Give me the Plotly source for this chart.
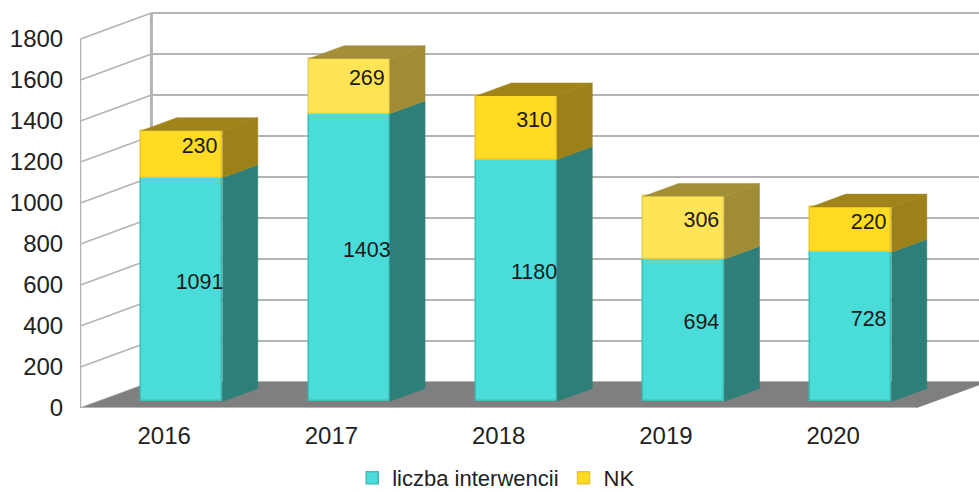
import plotly.graph_objects as go

years = ["2016", "2017", "2018", "2019", "2020"]
interwencje = [1091, 1403, 1180, 694, 728]
nk = [230, 269, 310, 306, 220]
y_ticks = [0, 200, 400, 600, 800, 1000, 1200, 1400, 1600, 1800]

TEAL, TEAL_SIDE, TEAL_LINE = "#4ADCD8", "#2E7F7A", "#3DBDB9"
YEL, YEL_SIDE, YEL_TOP, YEL_LINE = "#FFDB23", "#9C8118", "#A0841A", "#E8C62A"
YEL2, YEL2_SIDE, YEL2_TOP, YEL2_LINE = "#FFE455", "#A18C36", "#A48F39", "#E8CF50"
nk_front = [YEL, YEL2, YEL, YEL2, YEL]
nk_side = [YEL_SIDE, YEL2_SIDE, YEL_SIDE, YEL2_SIDE, YEL_SIDE]
nk_top = [YEL_TOP, YEL2_TOP, YEL_TOP, YEL2_TOP, YEL_TOP]
nk_line = [YEL_LINE, YEL2_LINE, YEL_LINE, YEL2_LINE, YEL_LINE]

# oblique projection: depth 0 = front plane, depth 1 = back wall
DX, DY = 0.424, 127
D0, D1 = 0.25, 0.75
BW = 0.484
GRID = "#B4B4B4"


def proj(x, v, d):
    return x + DX * d, v + DY * d


fig = go.Figure()
shapes = []


def poly(points, color):
    path = "M" + " L".join(f"{x},{y}" for x, y in points) + " Z"
    shapes.append(dict(type="path", path=path, xref="x", yref="y", fillcolor=color,
                       line=dict(width=0), layer="below"))


def seg(a, b, w):
    shapes.append(dict(type="line", xref="x", yref="y", x0=a[0], y0=a[1], x1=b[0], y1=b[1],
                       line=dict(color=GRID, width=w), layer="below"))


X0, X1 = -0.5, len(years) - 0.5
for t in y_ticks:
    seg(proj(X0, t, 0), proj(X0, t, 1), 1.6)
    seg(proj(X0, t, 1), proj(X1, t, 1), 2)
seg(proj(X0, 0, 1), proj(X0, y_ticks[-1], 1), 3)
seg(proj(X0, 0, 0), proj(X0, y_ticks[-1], 0), 1.5)
poly([proj(X0, 0, 0), proj(X0, 0, 1), proj(X1, 0, 1), proj(X1, 0, 0)], "#7F7F7F")
seg(proj(X0, 0, 0), proj(X1, 0, 0), 2)

pos = list(range(len(years)))
base_front = [DY * D0] * len(years)
nk_base = [b + v for b, v in zip(base_front, interwencje)]

fig.add_trace(go.Bar(x=[p + DX * D0 for p in pos], y=interwencje, base=base_front, width=BW,
                     name="liczba interwencii",
                     marker=dict(color=TEAL, line=dict(color=TEAL_LINE, width=1.5))))
fig.add_trace(go.Bar(x=[p + DX * D0 for p in pos], y=nk, base=nk_base, width=BW, name="NK",
                     marker=dict(color=nk_front, line=dict(color=nk_line, width=1.5))))


def face(points, color):
    fig.add_trace(go.Scatter(x=[p[0] for p in points], y=[p[1] for p in points], mode="lines",
                             fill="toself", fillcolor=color, line=dict(color=color, width=0.5),
                             showlegend=False, hoverinfo="skip"))


for i, p in enumerate(pos):
    L, R = p - BW / 2, p + BW / 2
    a, b = interwencje[i], interwencje[i] + nk[i]
    face([proj(R, 0, D0), proj(R, 0, D1), proj(R, a, D1), proj(R, a, D0)], TEAL_SIDE)
    face([proj(R, a, D0), proj(R, a, D1), proj(R, b, D1), proj(R, b, D0)], nk_side[i])
    face([proj(L, b, D0), proj(L, b, D1), proj(R, b, D1), proj(R, b, D0)], nk_top[i])

mid = 0.5
fig.add_trace(go.Scatter(
    x=[p + DX * mid for p in pos] * 2,
    y=[v / 2 + DY * mid for v in interwencje] + [a + v / 2 + DY * mid for a, v in zip(interwencje, nk)],
    text=[str(v) for v in interwencje + nk], mode="text", textposition="middle center",
    textfont=dict(size=21.5, color="#1a1a1a", family="Liberation Sans"),
    showlegend=False, hoverinfo="skip"))

fig.update_layout(
    width=979, height=515, autosize=False, barmode="overlay", bargap=0,
    margin=dict(l=80, r=0, t=0, b=107), paper_bgcolor="white", plot_bgcolor="white",
    font=dict(family="Liberation Sans", color="#222222"),
    shapes=shapes,
    xaxis=dict(range=[-0.503, 4.872], tickmode="array", tickvals=pos, ticktext=years,
               showgrid=False, zeroline=False, showline=False, ticks="outside", ticklen=6,
               tickcolor="rgba(0,0,0,0)", tickfont=dict(size=24)),
    yaxis=dict(range=[0, 1990], tickmode="array", tickvals=y_ticks, showgrid=False,
               zeroline=False, showline=False, ticks="outside",
               ticklen=11, tickcolor="rgba(0,0,0,0)", tickfont=dict(size=24)),
    legend=dict(orientation="h", x=0.463, xanchor="center", y=-0.12, yanchor="top",
                font=dict(size=22), bgcolor="rgba(0,0,0,0)", itemwidth=30),
)

fig.write_html("out.html", config={"displayModeBar": False},
               post_script="document.documentElement.style.overflow='hidden';document.body.style.margin='0';document.body.style.overflow='hidden';")
